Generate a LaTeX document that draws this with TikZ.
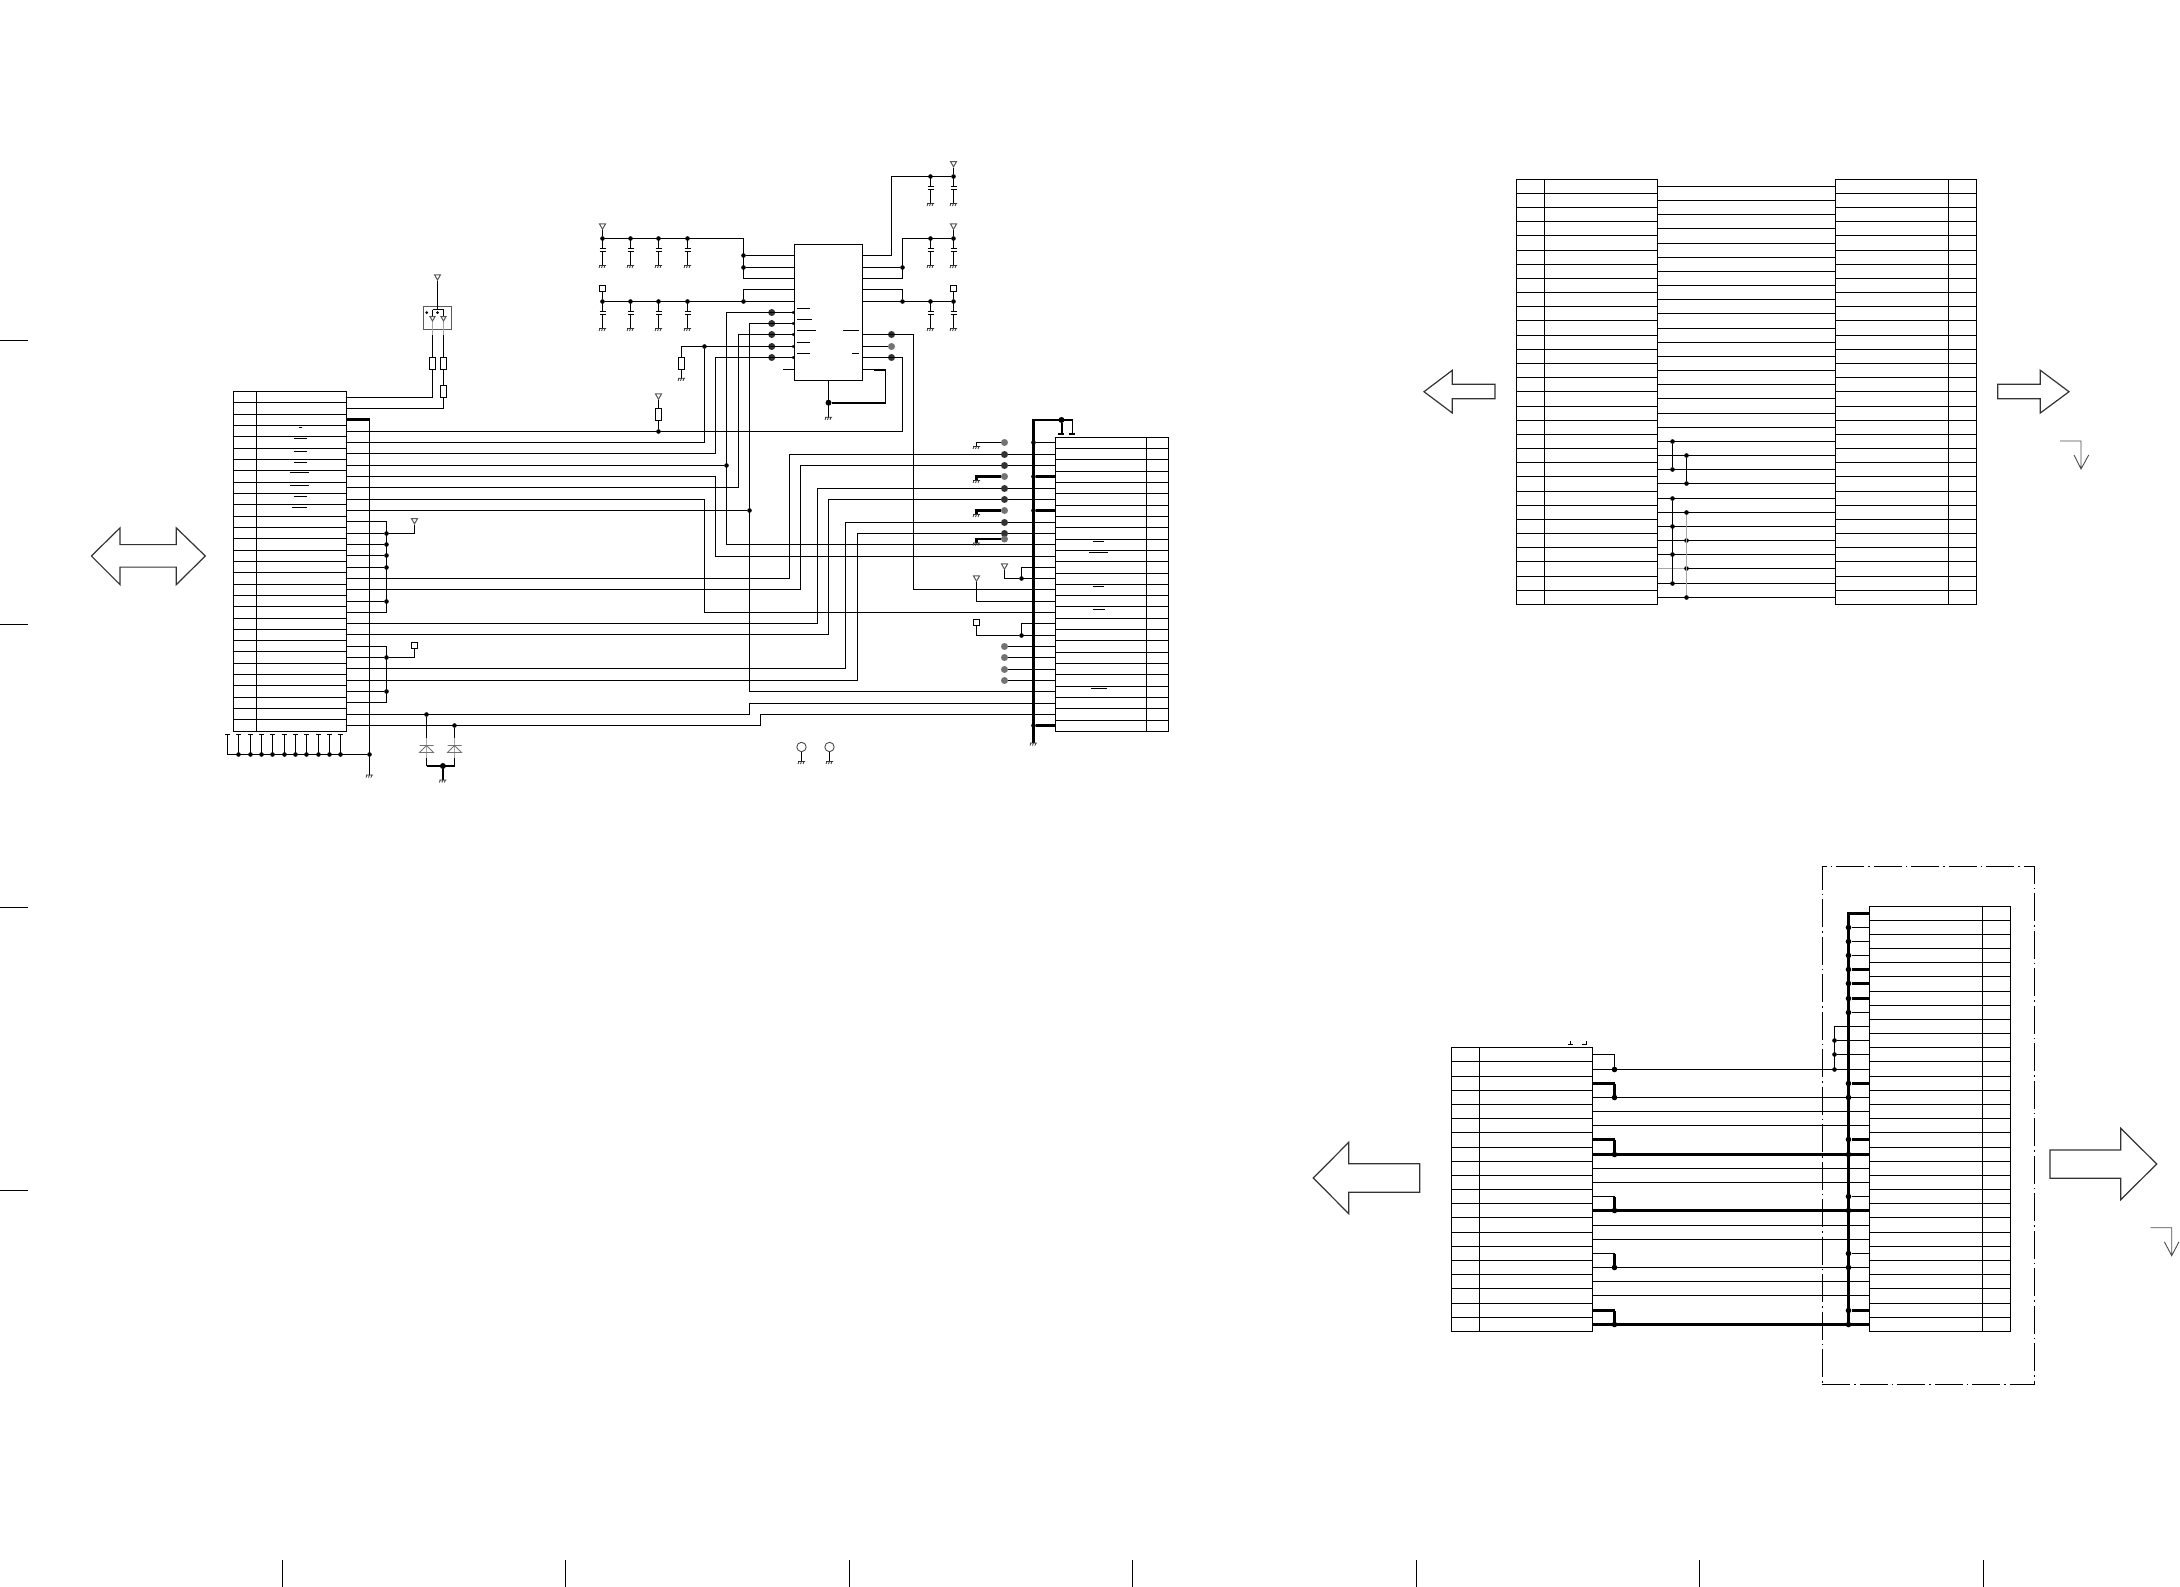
\documentclass[tikz,border=0pt]{standalone}
\usetikzlibrary{shapes.geometric}

\tikzset{
  declare function={snap(\v)=round(\v-.5)+.5;},
  wire/.style={line width=1.1pt},
  bus/.style={line width=2.2pt},
  gwire/.style={line width=1.1pt, black!35},
  dot/.style={circle, fill=black, inner sep=0pt, minimum size=4.6pt},
  pad/.style={circle, fill=black!80, inner sep=0pt, minimum size=7pt},
  gpad/.style={circle, fill=black!55, inner sep=0pt, minimum size=7pt},
  pin/.style={circle, draw, fill=white, line width=.5pt, inner sep=0pt, minimum size=2.6pt},
  tri/.style={regular polygon, regular polygon sides=3, shape border rotate=180, draw=black!65, fill=white, line width=1pt, inner sep=0pt, minimum size=7pt},
  sqr/.style={rectangle, draw, fill=white, line width=1pt, inner sep=0pt, minimum width=6.5pt, minimum height=5.5pt},
  res/.style={rectangle, draw, fill=white, line width=1pt, inner sep=0pt, minimum width=6pt, minimum height=12pt},
  hole/.style={circle, draw=black!70, fill=white, line width=.9pt, inner sep=0pt, minimum size=9.4pt},
  tblbox/.style={rectangle, draw, line width=1.1pt, inner sep=0pt, outer sep=0pt, anchor=north west},
  frame/.style={rectangle, draw, line width=1.1pt, dash pattern=on 28pt off 4pt on 1.5pt off 4pt, inner sep=0pt, anchor=north west},
  hollow/.style={line width=1.2pt, black!80, line join=miter},
  gnd/.pic={\draw[line width=.8pt, black!80] (-3.5,0) -- (3.5,0) (-2.5,0) -- (-3.5,2.5) (0,0) -- (-1,2.5) (2.5,0) -- (1.5,2.5);},
  capg/.pic={\draw[wire] (0,0) -- (0,10) (-3,10) -- (3,10) (-3,13) -- (3,13) (0,13) -- (0,27); \draw (0,27) pic{gnd};},
  tvs/.pic={\draw[line width=.9pt, black!55] (-7,-3.5) -- (7,-3.5) (-7,3.5) -- (7,3.5) -- (0,-3.5) -- cycle;}
}

\newcommand{\conntable}[7]{%
  \draw ({snap(#2)},{snap(#5)})node[tblbox, minimum width={snap(#4)-snap(#2)}, minimum height={snap(#5+#6*#7)-snap(#5)}](#1){};
  \draw[wire] ({snap(#3)},{snap(#5)}) -- ({snap(#3)},{snap(#5+#6*#7)});
  \foreach \i in {1,...,#6}{
    \coordinate (#1l\i) at ({snap(#2)},{snap(#5+(\i-.5)*#7)});
    \coordinate (#1r\i) at ({snap(#4)},{snap(#5+(\i-.5)*#7)});
    \draw[wire] ({snap(#2)},{snap(#5+\i*#7)}) -- ({snap(#4)},{snap(#5+\i*#7)});
  }
}
\newcommand{\zwire}[4][wire]{\draw[#1] (#2) -- (#2 -| #4) -- (#3 -| #4) -- (#3);}

\begin{document}
\begin{tikzpicture}[x=1pt, y=-1pt]
  \useasboundingbox (0,0) rectangle (2180,1587);

  % margin ticks
  \foreach \yy in {340.5,624.5,907.5,1190.5} \draw[wire] (0,\yy) -- (28,\yy);
  \foreach \xx in {282.5,565.5,849.5,1132.5,1416.5,1699.5,1983.5} \draw[wire] (\xx,1560) -- (\xx,1587);

  % connectors
  \conntable{A}{233.5}{256.3}{346.5}{391.4}{30}{11.33}
  \conntable{D}{1055.7}{1146.3}{1168.3}{437.3}{26}{11.31}
  \conntable{B}{1516.3}{1544.3}{1657.3}{179.3}{30}{14.17}
  \conntable{C}{1835.3}{1948.7}{1976.7}{179.3}{30}{14.17}
  \conntable{E}{1451.3}{1479.3}{1592.3}{1047.8}{20}{14.18}
  \conntable{F}{1869.3}{1982.3}{2010.3}{906}{30}{14.18}

  % the chip
  \draw (794.5,244.5)node[tblbox, minimum width=68, minimum height=136](ic){};
  \foreach \i/\yy in {1/255.3,2/267,3/278,4/289.3,5/301.3,6/312.3,7/323.3,8/334.7,9/346,10/357.3,11/369.3}{
    \coordinate (icl\i) at (794.5,{snap(\yy)});
    \coordinate (icr\i) at (862.5,{snap(\yy)});
  }

  % vertical runs
  \foreach \n/\xx in {va/704.3,vb/715.7,vc/726.3,vd/738.3,ve/749.3,vf/902.3,vg/913.3,vh/789.7,vi/800.3,vj/817.3,vk/828.3,vl/845.3,vm/857.3,vn/976.3,vo/1021.7,vp/1033,vq/760.7,vr/1004.3,vs/386.5,vt/369,vu/743.3,vw/891.3,vx/1848,vy/1834.3,vz/1614}
    \coordinate (\n) at ({snap(\xx)},0);

  % junctions on the long runs
  \foreach \n/\a/\b in {jA/va/icl9,jB/vc/Ar7,jC/ve/Ar11,jD/vu/icl1,jE/vu/icl2,jF/vu/icl5,jG/vf/icr2,jH/vf/icr5,jJ/vo/Dl13,jK/vo/Dl18}
    \draw (\a |- \b)node[dot](\n){};

  % capacitors
  \foreach \n/\xx/\yy in {c1/602.5/238.5,c2/630.5/238.5,c3/658.5/238.5,c4/687.5/238.5,c5/602.5/301.5,c6/630.5/301.5,c7/658.5/301.5,c8/687.5/301.5,c9/930.5/176.5,c10/953.5/176.5,c11/930.5/238.5,c12/953.5/238.5,c13/930.5/301.5,c14/953.5/301.5}{
    \draw (\xx,\yy)node[dot](\n){};
    \draw (\n) pic{capg};
  }
  \draw (602.5,225.7)node[tri](p1){};
  \draw (602.5,288.3)node[sqr](p2){};
  \draw (953.5,163.3)node[tri](p3){};
  \draw (953.5,225.7)node[tri](p4){};
  \draw (953.5,288.3)node[sqr](p5){};
  \foreach \a/\b in {p1/c1,p2/c5,p3/c10,p4/c12,p5/c14} \draw[wire] (\a) -- (\b);

  % supply rails round the chip
  \zwire{c1}{icl3}{vu}
  \draw[wire] (jD) -- (icl1);
  \draw[wire] (jE) -- (icl2);
  \draw[wire] (c5) -- (icl5);
  \draw[wire] (icl4) -| (jF);
  \zwire{icr1}{c10}{vw}
  \draw[wire] (jG) -- (icr2);
  \zwire{icr3}{c12}{vf}
  \draw[wire] (icr4) -| (jH);
  \draw[wire] (icr5) -- (c14);

  % chip signals
  \foreach \i in {6,...,10} \draw (771.7,0 |- icl\i)node[pad](ql\i){};
  \draw (vw |- icr8)node[pad](qr8){};
  \draw (vw |- icr9)node[gpad](qr9){};
  \draw (vw |- icr10)node[pad](qr10){};
  \foreach \i in {6,...,10} \draw (793.3,0 |- icl\i)node[pin](ml\i){};
  \draw[wire] (icr9) -- (qr9);
  \draw (681.5,363.5)node[res](R4){};
  \coordinate (gR4) at (681.5,378.3);
  \draw[wire] (icl9) -| (R4.north);
  \draw[wire] (R4.south) -- (gR4);
  \draw (gR4) pic{gnd};
  \coordinate (s11) at (783,369.5);
  \draw[wire] (icl11) -- (s11);
  \coordinate (kA) at (874,369.5);
  \coordinate (kB) at (885.5,369.5);
  \coordinate (kC) at (885.5,402.7);
  \draw (828.5,402.7)node[dot, minimum size=6pt](jI){};
  \coordinate (gI) at (828.5,417.3);
  \draw[wire] (icr11) -- (kA);
  \draw[bus, line width=2pt] (kA) -- (kB);
  \draw[wire] (kB) -- (kC);
  \draw[bus] (kC) -- (jI);
  \draw[wire] (ic.south) -- (gI);
  \draw (gI) pic{gnd};
  \foreach \xa/\xb/\yy in {797/810/308.5,797/812/319.5,797/816/330.5,797/810/342.5,797/810/353.5,843.3/859/330.5,852/859/353.5}
    \draw[wire] (\xa,\yy) -- (\xb,\yy);

  % left connector to the chip and the right connector
  \zwire{Ar4}{icr10}{vf}
  \draw[wire] (Ar5) -| (jA);
  \zwire{Ar6}{icl10}{vb}
  \draw[wire] (Ar7) -- (jB);
  \zwire{Dl10}{icl6}{vc}
  \zwire{Ar8}{Dl11}{vb}
  \zwire{Ar9}{icl8}{vd}
  \zwire{Ar10}{Dl16}{va}
  \draw[wire] (Ar11) -- (jC);
  \zwire{Dl23}{icl7}{ve}
  \zwire{Ar17}{Dl2}{vh}
  \zwire{Ar18}{Dl3}{vi}
  \zwire{Ar21}{Dl5}{vj}
  \zwire{Ar22}{Dl6}{vk}
  \zwire{Ar25}{Dl8}{vl}
  \zwire{Ar26}{Dl9}{vm}
  \zwire{Ar29}{Dl24}{ve}
  \zwire{Ar30}{Dl25}{vq}
  \zwire{Dl14}{icr8}{vg}

  % pull up on row 4
  \draw (658.5,414.5)node[res](R5){};
  \draw (658.5,395.7)node[tri](p6){};
  \draw (658.5,0 |- Ar4)node[dot](jR5){};
  \draw[wire] (p6) -- (R5.north);
  \draw[wire] (R5.south) -- (jR5);

  % diode pack on top of the left connector
  \draw (423.5,306.5)node[tblbox, draw=black!65, line width=1pt, minimum width=28, minimum height=23](dbox){};
  \draw (437.5,276.5)node[tri](p7){};
  \coordinate (jL) at (437.5,309.5);
  \coordinate (jM) at (432.5,309.5);
  \coordinate (jN) at (443.5,309.5);
  \draw (432.5,318)node[tri, minimum size=6pt](d1){};
  \draw (443.5,318)node[tri, minimum size=6pt](d2){};
  \draw (426.7,312.7)node[dot, minimum size=3pt](m1){};
  \draw (437.5,312.7)node[dot, minimum size=3pt](m2){};
  \draw (432.5,363.5)node[res](R1){};
  \draw (443.5,363.5)node[res](R2){};
  \draw (443.5,391.7)node[res](R3){};
  \coordinate (e1) at (432.5,335);
  \coordinate (e2) at (443.5,335);
  \draw[wire] (p7) -- (jL);
  \draw[wire] (jM) -- (jN);
  \draw[wire] (jM) -- (d1);
  \draw[wire] (jN) -- (d2);
  \draw[gwire] (d1) -- (e1);
  \draw[gwire] (d2) -- (e2);
  \draw[wire] (e1) -- (R1.north);
  \draw[wire] (e2) -- (R2.north);
  \draw[wire] (R2.south) -- (R3.north);
  \draw[wire] (Ar1) -| (R1.south);
  \draw[wire] (Ar2) -| (R3.south);

  % left connector, grounds and supplies
  \draw (vt |- 0,754.5)node[dot](jG1){};
  \coordinate (gA) at (369.5,775);
  \draw[bus] (Ar3) -- (Ar3 -| vt);
  \draw[wire] (Ar3 -| vt) -- (gA);
  \draw (gA) pic{gnd};
  \foreach \i/\xx in {1/227.5,2/238.5,3/250.5,4/261.5,5/272.5,6/284.5,7/295.5,8/306.5,9/318.5,10/329.5,11/340.5}{
    \coordinate (st\i) at (\xx,754.5);
    \coordinate (su\i) at (\xx,734.5);
    \ifnum\i>1 \draw (st\i)node[dot](sd\i){}; \fi
    \draw[wire, line width=1.4pt] (st\i) -- (su\i);
    \draw[wire] (\xx-2.5,734.5) -- (\xx+2.5,734.5);
  }
  \draw[wire] (st1) -- (jG1);

  \zwire{Ar12}{Ar20}{vs}
  \foreach \i in {13,14,15,16,19}{
    \draw (vs |- Ar\i)node[dot](ja\i){};
    \draw[wire] (Ar\i) -- (ja\i);
  }
  \draw (414.5,520.4)node[tri](p8){};
  \draw[wire] (ja13) -| (p8);
  \zwire{Ar23}{Ar28}{vs}
  \foreach \i in {24,27}{
    \draw (vs |- Ar\i)node[dot](ja\i){};
    \draw[wire] (Ar\i) -- (ja\i);
  }
  \draw (414.5,645.7)node[sqr](p9){};
  \draw[wire] (ja24) -| (p9);

  % protection diodes
  \draw (426.5,0 |- Ar29)node[dot](t1){};
  \draw (454.5,0 |- Ar30)node[dot](t2){};
  \coordinate (t1a) at (426.5,737.5);
  \coordinate (t2a) at (454.5,737.5);
  \coordinate (t1b) at (426.5,758);
  \coordinate (t2b) at (454.5,758);
  \coordinate (t1c) at (426.5,766);
  \coordinate (t2c) at (454.5,766);
  \coordinate (gT) at (442.9,780);
  \draw (442.9,766)node[dot, minimum size=6pt](jT){};
  \draw[wire] (t1) -- (t1a);
  \draw[wire] (t2) -- (t2a);
  \draw[gwire] (t1a) -- (t1b);
  \draw[gwire] (t2a) -- (t2b);
  \draw[wire] (t1b) -- (t1c);
  \draw[wire] (t2b) -- (t2c);
  \draw[bus] (t1c) -- (t2c);
  \draw[bus] (jT) -- (gT);
  \draw (gT) pic{gnd};
  \draw (426.5,749) pic{tvs};
  \draw (454.5,749) pic{tvs};

  % overbars in the two left connectors
  \foreach \xa/\xb/\yy in {298.9/302/427.5,293.9/307/438.5,293.9/307/451.5,293.9/307/462.5,289.8/309/472.5,289.8/309/485.5,293.9/307/496.5,291.8/307/507.5,1093/1104/541.5,1089/1108/552.5,1093/1104/586.5,1093/1105/609.5,1091/1107/688.5}
    \draw[wire] (\xa,\yy) -- (\xb,\yy);

  % right connector bus and rows
  \coordinate (bA) at (1033.5,420);
  \coordinate (bB) at (1072.5,420);
  \coordinate (gB) at (1033.5,743);
  \draw[bus] (bB) -- (bA) -- (gB);
  \draw (gB) pic{gnd};
  \draw (1061.5,420)node[dot, minimum size=6pt](jU){};
  \coordinate (tA) at (1061.5,434);
  \coordinate (tB) at (1072.5,434);
  \draw[bus, line width=2pt] (jU) -- (tA);
  \draw[wire] (bB) -- (tB);
  \draw[wire] (1058,434) -- (1064,434) (1069.3,434) -- (1075.3,434);
  \foreach \i/\st in {1/wire,4/bus,7/bus,26/bus}{
    \draw (vp |- Dl\i)node[dot](jb\i){};
    \draw[\st] (Dl\i) -- (jb\i);
  }
  \foreach \i in {2,3,5,6,8,9} \draw (vr |- Dl\i)node[pad](qd\i){};
  \foreach \n/\yy/\lw in {1/442.5/1.1pt,4/476.5/2.2pt,7/510.5/2.2pt,10/539/2.2pt}{
    \draw (1004.5,\yy)node[gpad](qg\n){};
    \coordinate (gk\n) at (976.5,\yy+4);
    \draw[line width=\lw] (qg\n) -| (gk\n);
    \draw (gk\n) pic{gnd};
  }
  \zwire{Dl12}{Dl13}{vo}
  \draw (1004.5,565.7)node[tri](p10){};
  \draw[wire] (jJ) -| (p10);
  \draw (976.5,577.7)node[tri](p11){};
  \draw[wire] (Dl15) -| (p11);
  \zwire{Dl17}{Dl18}{vo}
  \draw (976.5,622.7)node[sqr](p12){};
  \draw[wire] (jK) -| (p12);
  \foreach \i in {19,...,22}{
    \draw (vr |- Dl\i)node[gpad](qs\i){};
    \draw[wire] (Dl\i) -- (qs\i);
  }

  % mounting holes
  \draw (801.5,747)node[hole](h1){};
  \draw (829.5,747)node[hole](h2){};
  \coordinate (gh1) at (801.5,761.5);
  \coordinate (gh2) at (829.5,761.5);
  \draw[wire] (h1) -- (gh1);
  \draw[wire] (h2) -- (gh2);
  \draw (gh1) pic{gnd};
  \draw (gh2) pic{gnd};

  % top right harness
  \coordinate (wa) at (1672.5,0);
  \coordinate (wb) at (1686.5,0);
  \foreach \i in {1,...,27} \draw[wire] (Br\i) -- (Cl\i);
  \draw[gwire, line width=1.6pt] (Br28) -- (wb |- Br28);
  \draw[wire] (wb |- Br28) -- (Cl28);
  \foreach \i in {29,30} \draw[wire] (Br\i) -- (Cl\i);
  \foreach \i in {19,21,23,25,27,29,20,22,24,26,28,30}{
    \ifodd\i \draw (wa |- Br\i)node[dot](jw\i){}; \else \draw (wb |- Br\i)node[dot](jw\i){}; \fi
  }
  \draw[wire] (jw19) -- (jw21);
  \draw[wire] (jw20) -- (jw22);
  \draw[wire] (jw23) -- (jw29);
  \draw[gwire] (jw24) -- (jw30);

  % bottom right harness
  \node[frame, minimum width=212, minimum height=518](fr) at (1821.5,865.5) {};
  \foreach \a/\b/\st in {2/12/wire,4/14/wire,5/15/wire,6/16/wire,8/18/bus,9/19/wire,10/20/wire,12/22/bus,13/23/wire,14/24/wire,16/26/wire,17/27/wire,18/28/wire,20/30/bus}
    \draw[\st] (Er\a) -- (Fl\b);
  \foreach \a/\b/\st/\sv in {1/2/wire/wire,3/4/bus/bus,7/8/bus/bus,11/12/wire/bus,15/16/wire/bus,19/20/bus/bus}{
    \draw (vz |- Er\b)node[dot, minimum size=5.6pt](je\b){};
    \draw[\st] (Er\a) -- (vz |- Er\a);
    \draw[\sv] (vz |- Er\a) -- (je\b);
  }
  \draw[bus] (Fl1) -- (vx |- Fl1) -- (vx |- Fl30);
  \foreach \i/\st in {2/wire,3/wire,4/wire,5/bus,6/bus,7/bus,8/wire,13/bus,14/wire,17/bus,18/wire,21/wire,22/wire,25/wire,26/wire,29/bus,30/wire}{
    \draw (vx |- Fl\i)node[dot, minimum size=5.6pt](jf\i){};
    \draw[\st] (Fl\i) -- (jf\i);
  }
  \zwire{Fl9}{Fl12}{vy}
  \foreach \i in {10,11,12}{
    \draw (vy |- Fl\i)node[dot](jy\i){};
    \draw[wire] (Fl\i) -- (jy\i);
  }

  % hollow arrows
  \draw[hollow] (91.4,556) -- (120,527.9) -- (120,544.6) -- (176.3,544.6) -- (176.3,527.9) -- (205.3,556) -- (176.3,584.6) -- (176.3,567.1) -- (120,567.1) -- (120,584.6) -- cycle;
  \draw[hollow] (1424,391.7) -- (1452.3,370.3) -- (1452.3,384.3) -- (1495,384.3) -- (1495,398.7) -- (1452.3,398.7) -- (1452.3,413) -- cycle;
  \draw[hollow] (2069,391.7) -- (2040.3,370.3) -- (2040.3,384.3) -- (1997.7,384.3) -- (1997.7,398.7) -- (2040.3,398.7) -- (2040.3,413) -- cycle;
  \draw[hollow] (1313.3,1178) -- (1348.7,1142.3) -- (1348.7,1163.7) -- (1419.7,1163.7) -- (1419.7,1192.3) -- (1348.7,1192.3) -- (1348.7,1213.7) -- cycle;
  \draw[hollow] (2156.7,1164) -- (2120.7,1128.3) -- (2120.7,1150) -- (2050,1150) -- (2050,1178.3) -- (2120.7,1178.3) -- (2120.7,1199.7) -- cycle;

  % corner arrows
  \draw[line width=.9pt, black!70] (2060,441) -- (2081,441) -- (2081,469) (2074,455) -- (2081,469) -- (2088.7,455);
  \draw[line width=.9pt, black!70] (2150.7,1227.7) -- (2171.7,1227.7) -- (2171.7,1255.7) (2164.3,1241.7) -- (2171.7,1255.7) -- (2179,1241.7);

  % small marks over the lower connector
  \draw[wire] (1568.3,1044.4) -- (1572.7,1044.4) (1570.7,1041.3) -- (1570.7,1044.4);
  \draw[wire] (1582,1044.4) -- (1586.7,1044.4) -- (1586.7,1041.3);
\end{tikzpicture}
\end{document}
